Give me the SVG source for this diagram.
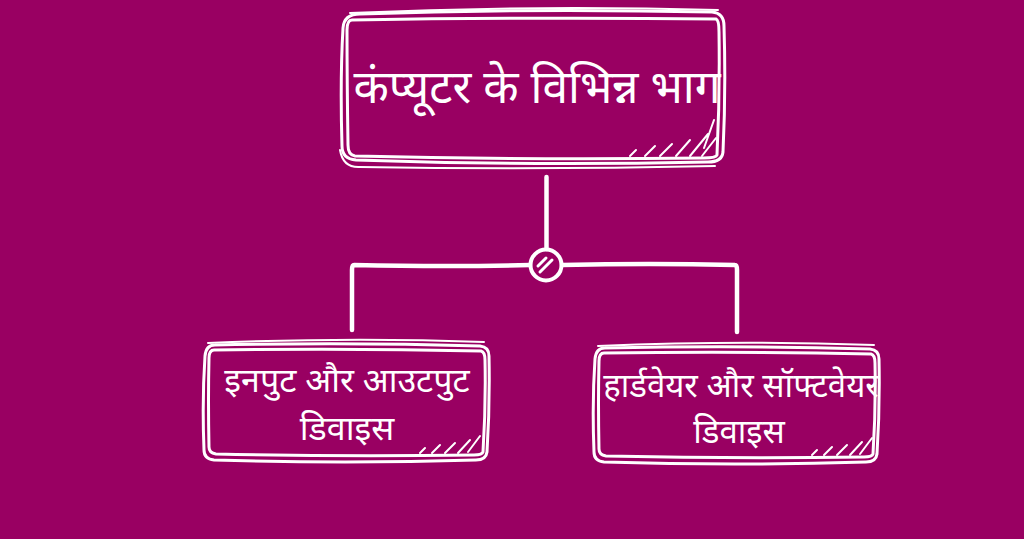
<svg xmlns="http://www.w3.org/2000/svg" width="1024" height="539" viewBox="0 0 1024 539">
<style>
.sk{fill:none;stroke:#fff;stroke-linecap:round;stroke-linejoin:round}
.t{fill:#fff;font-family:"Noto Sans Devanagari","Noto Sans","Lohit Devanagari",sans-serif;text-anchor:middle}
</style>
<rect width="1024" height="539" fill="#990062"/>
<g id="connectors" class="sk">
<path d="M546.5 177 L546.5 249" stroke-width="4.5"/>
<circle cx="546" cy="265" r="15.5" stroke-width="4"/>
<path d="M540 272 L552 260 M538 266 L546 258" stroke-width="3"/>
<path d="M530 265 Q450 267 354 265 Q352 265 352 270 L352 330" stroke-width="4.5"/>
<path d="M562 265 Q650 263 735 265 Q737 265 737 270 L737 332" stroke-width="4.5"/>
</g>
<g id="node-main">
<g class="sk" stroke-width="3">
<path d="M360 14 Q530 8 712 12 Q724 13 724 26 Q726 90 723 152 Q722 162 708 162 Q530 166 356 160 Q342 159 342 146 Q340 80 343 28 Q344 14 360 14 Z"/>
<path d="M352 20 Q540 17 716 19 Q719 20 719 32 Q720 95 717 155 Q716 158 704 158 Q520 160 355 156 Q348 155 348 145 Q347 80 347 30 Q347 20 352 20 Z"/>
<path d="M350 13 Q530 5 718 10" stroke-width="2"/>
<path d="M340 150 Q343 168 360 167 Q540 170 715 166" stroke-width="2"/>
<path d="M630 156 L636 150 M645 156 L655 146 M660 156 L672 144 M676 156 L690 140 M690 156 L708 134 M702 156 L716 138 M704 148 L714 120" stroke-width="2"/>
</g>
<text class="t" x="537" y="103" font-size="46">कंप्यूटर के विभिन्न भाग</text>
</g>
<g id="node-io">
<g class="sk" stroke-width="3">
<path d="M215 345 Q350 342 480 346 Q489 347 489 356 Q490 405 487 452 Q486 460 476 460 Q345 464 214 460 Q204 459 204 450 Q202 400 205 356 Q206 345 215 345 Z"/>
<path d="M214 350 Q350 348 481 351 Q485 352 485 360 Q486 405 483 452 Q482 455 474 455 Q345 457 216 454 Q209 453 209 447 Q208 400 209 358 Q209 350 214 350 Z"/>
<path d="M208 343 Q350 337 484 342" stroke-width="2"/>
<path d="M420 453 L425 448 M432 453 L440 445 M445 453 L455 443 M458 453 L470 440 M468 452 L480 436" stroke-width="2"/>
</g>
<text class="t" x="347" y="392" font-size="34">इनपुट और आउटपुट</text>
<text class="t" x="347" y="440" font-size="34">डिवाइस</text>
</g>
<g id="node-hw">
<g class="sk" stroke-width="3">
<path d="M605 348 Q740 345 870 349 Q879 350 879 359 Q880 408 877 454 Q876 462 866 462 Q735 466 604 462 Q594 461 594 452 Q592 402 595 359 Q596 348 605 348 Z"/>
<path d="M604 353 Q740 351 871 354 Q875 355 875 363 Q876 408 873 454 Q872 457 864 457 Q735 459 606 456 Q599 455 599 449 Q598 402 599 361 Q599 353 604 353 Z"/>
<path d="M598 346 Q740 340 874 345" stroke-width="2"/>
<path d="M812 455 L817 450 M824 455 L832 447 M837 455 L847 445 M850 455 L862 442 M860 454 L872 438" stroke-width="2"/>
</g>
<text class="t" x="741" y="397" font-size="33">हार्डवेयर और सॉफ्टवेयर</text>
<text class="t" x="739" y="443" font-size="33">डिवाइस</text>
</g>
</svg>
